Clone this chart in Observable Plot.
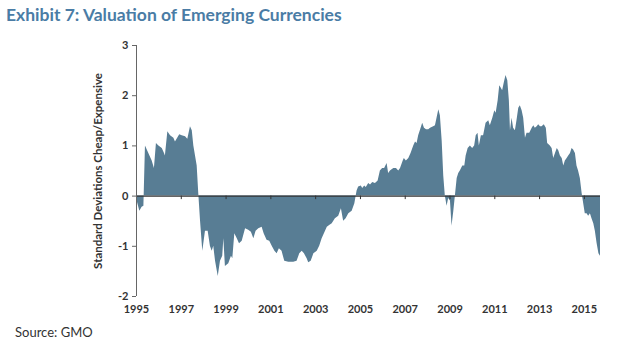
<!DOCTYPE html>
<html>
<head>
<meta charset="utf-8">
<script src="https://cdn.jsdelivr.net/npm/d3@7"></script>
<script src="https://cdn.jsdelivr.net/npm/@observablehq/plot@0.6"></script>
<style>
  html, body { margin: 0; padding: 0; background: #fff; }
  #wrap { position: relative; width: 627px; height: 354px; overflow: hidden; font-family: Lato, "Open Sans", sans-serif; }
  #title { position: absolute; left: 6px; top: 4px; font-size: 17.5px; font-weight: bold; color: #4a7ca5; white-space: nowrap; }
  #source { position: absolute; left: 15px; top: 324px; font-size: 13px; color: #333; white-space: nowrap; }
  #chart { position: absolute; left: 0; top: 0; }
</style>
</head>
<body>
<div id="wrap">
  <div id="chart"></div>
  <div id="title">Exhibit 7: Valuation of Emerging Currencies</div>
  <div id="source">Source: GMO</div>
</div>
<script>
const years = [
  1995.00,1995.06,1995.15,1995.25,1995.33,1995.40,1995.55,1995.70,1995.80,1995.89,
  1996.00,1996.15,1996.25,1996.29,1996.40,1996.52,1996.67,1996.74,1996.93,
  1997.04,1997.19,1997.29,1997.41,1997.49,1997.56,1997.71,1997.78,1997.86,1997.96,
  1998.08,1998.20,1998.30,1998.38,1998.45,1998.53,1998.65,1998.75,1998.85,1998.90,1998.97,
  1999.12,1999.24,1999.30,1999.39,1999.50,1999.60,1999.72,1999.87,
  2000.01,2000.13,2000.24,2000.34,2000.46,2000.61,2000.70,2000.83,2000.95,
  2001.06,2001.18,2001.28,2001.38,2001.50,2001.62,2001.80,
  2002.02,2002.17,2002.29,2002.40,2002.50,2002.62,2002.69,2002.80,2002.92,
  2003.07,2003.18,2003.29,2003.44,2003.52,2003.64,2003.74,2003.88,
  2004.03,2004.15,2004.25,2004.36,2004.48,2004.63,2004.75,2004.85,2004.92,
  2005.04,2005.10,2005.19,2005.26,2005.37,2005.45,2005.55,2005.67,2005.79,2005.89,2005.99,
  2006.08,2006.19,2006.26,2006.34,2006.49,2006.61,2006.71,2006.79,2006.91,2006.96,
  2007.05,2007.16,2007.26,2007.38,2007.46,2007.53,2007.60,2007.71,2007.78,2007.86,2007.95,
  2008.05,2008.13,2008.27,2008.35,2008.42,2008.50,2008.57,2008.65,2008.72,2008.79,2008.87,2008.94,
  2009.02,2009.09,2009.17,2009.24,2009.32,2009.39,2009.46,2009.57,2009.66,2009.72,2009.81,2009.91,
  2010.01,2010.10,2010.17,2010.25,2010.31,2010.40,2010.50,2010.61,2010.73,2010.80,2010.91,
  2011.00,2011.06,2011.15,2011.22,2011.29,2011.35,2011.42,2011.50,2011.58,2011.65,2011.70,2011.77,2011.84,2011.92,2011.99,
  2012.07,2012.14,2012.22,2012.29,2012.37,2012.44,2012.56,2012.67,2012.74,2012.81,2012.89,2012.96,
  2013.04,2013.11,2013.21,2013.30,2013.36,2013.48,2013.56,2013.63,2013.71,2013.79,2013.86,2013.93,
  2014.01,2014.08,2014.15,2014.23,2014.30,2014.38,2014.45,2014.52,2014.60,2014.67,2014.74,2014.82,2014.90,2014.97,
  2015.04,2015.12,2015.19,2015.27,2015.34,2015.42,2015.49,2015.57,2015.65,2015.72
];
const values = [
  -0.05,-0.15,-0.30,-0.22,-0.20,1.00,0.85,0.70,0.55,1.05,
  1.00,0.95,0.85,0.80,1.28,1.20,1.15,1.08,1.22,
  1.20,1.18,1.13,1.38,1.30,1.00,0.60,0.05,-0.50,-1.10,
  -0.70,-0.70,-1.00,-1.10,-1.00,-1.30,-1.60,-1.30,-1.20,-0.85,-1.40,
  -1.35,-1.20,-1.25,-0.75,-0.85,-0.95,-0.90,-0.65,
  -0.68,-0.72,-0.85,-0.70,-0.65,-0.62,-0.75,-0.88,-0.90,
  -1.00,-1.10,-1.15,-1.05,-1.10,-1.30,-1.32,
  -1.32,-1.30,-1.15,-1.10,-1.15,-1.25,-1.33,-1.30,-1.15,
  -1.10,-1.00,-0.85,-0.70,-0.62,-0.58,-0.55,-0.45,
  -0.40,-0.25,-0.50,-0.45,-0.35,-0.30,-0.15,0.10,0.18,
  0.20,0.15,0.20,0.17,0.25,0.22,0.27,0.25,0.30,0.50,0.55,
  0.55,0.65,0.45,0.50,0.55,0.55,0.50,0.55,0.70,0.75,
  0.70,0.75,0.85,1.00,1.08,1.05,1.20,1.35,1.45,1.35,1.32,
  1.32,1.35,1.38,1.40,1.55,1.72,1.60,1.10,0.40,0.00,-0.20,-0.05,
  -0.10,-0.60,-0.30,0.00,0.35,0.45,0.50,0.60,0.60,0.80,0.95,1.00,
  0.95,1.00,1.20,1.25,1.00,1.20,1.20,1.45,1.50,1.40,1.55,
  1.70,1.65,1.90,2.20,2.15,2.10,2.25,2.40,2.30,1.90,1.30,1.55,1.35,1.30,1.50,
  1.75,1.80,1.70,1.55,1.15,1.25,1.25,1.35,1.40,1.35,1.38,1.42,
  1.38,1.38,1.42,1.35,1.05,1.00,0.95,0.75,0.85,0.95,0.90,0.80,
  0.75,0.60,0.70,0.75,0.80,0.85,0.95,0.92,0.85,0.60,0.50,0.35,0.05,-0.15,
  -0.35,-0.35,-0.40,-0.35,-0.45,-0.55,-0.70,-0.95,-1.15,-1.20
];
const xTicks = [1995,1997,1999,2001,2003,2005,2007,2009,2011,2013,2015];
const yTicks = [-2,-1,0,1,2,3];
const yLabel = "Standard Deviations Cheap/Expensive";

const data = years.map((t, i) => ({t, v: values[i]}));

const chart = Plot.plot({
  width: 627,
  height: 354,
  marginTop: 45,
  marginBottom: 58,
  marginLeft: 136,
  marginRight: 27,
  style: {fontFamily: "Lato, 'Open Sans', sans-serif", fontSize: "11px", fontWeight: "bold", color: "#333", background: "transparent"},
  x: {domain: [1995, years[years.length - 1]]},
  y: {domain: [-2, 3]},
  marks: [
    Plot.areaY(data, {x: "t", y: "v", fill: "#587d94", curve: "linear"}),
    Plot.ruleY([0], {stroke: "#333", strokeWidth: 1.2}),
    Plot.ruleX(xTicks.slice(1), {y1: 0, y2: -0.07, stroke: "#333"}),
    Plot.ruleX([1995], {y1: -2, y2: 3, stroke: "#666"}),
    Plot.axisY({ticks: yTicks, tickSize: 4, tickPadding: 4, stroke: "#666", fontWeight: "bold", fontSize: 11, label: null, tickFormat: d => String(d)}),
    Plot.axisY({ticks: [], tickSize: 0, fontWeight: "bold", fontSize: 11.5, label: yLabel, labelAnchor: "center", labelArrow: "none", labelOffset: 43}),
    Plot.axisX({ticks: xTicks, tickSize: 0, tickPadding: 9, fontWeight: "bold", fontSize: 11, tickFormat: d => String(d), label: null})
  ]
});
document.getElementById("chart").appendChild(chart);
</script>
</body>
</html>
